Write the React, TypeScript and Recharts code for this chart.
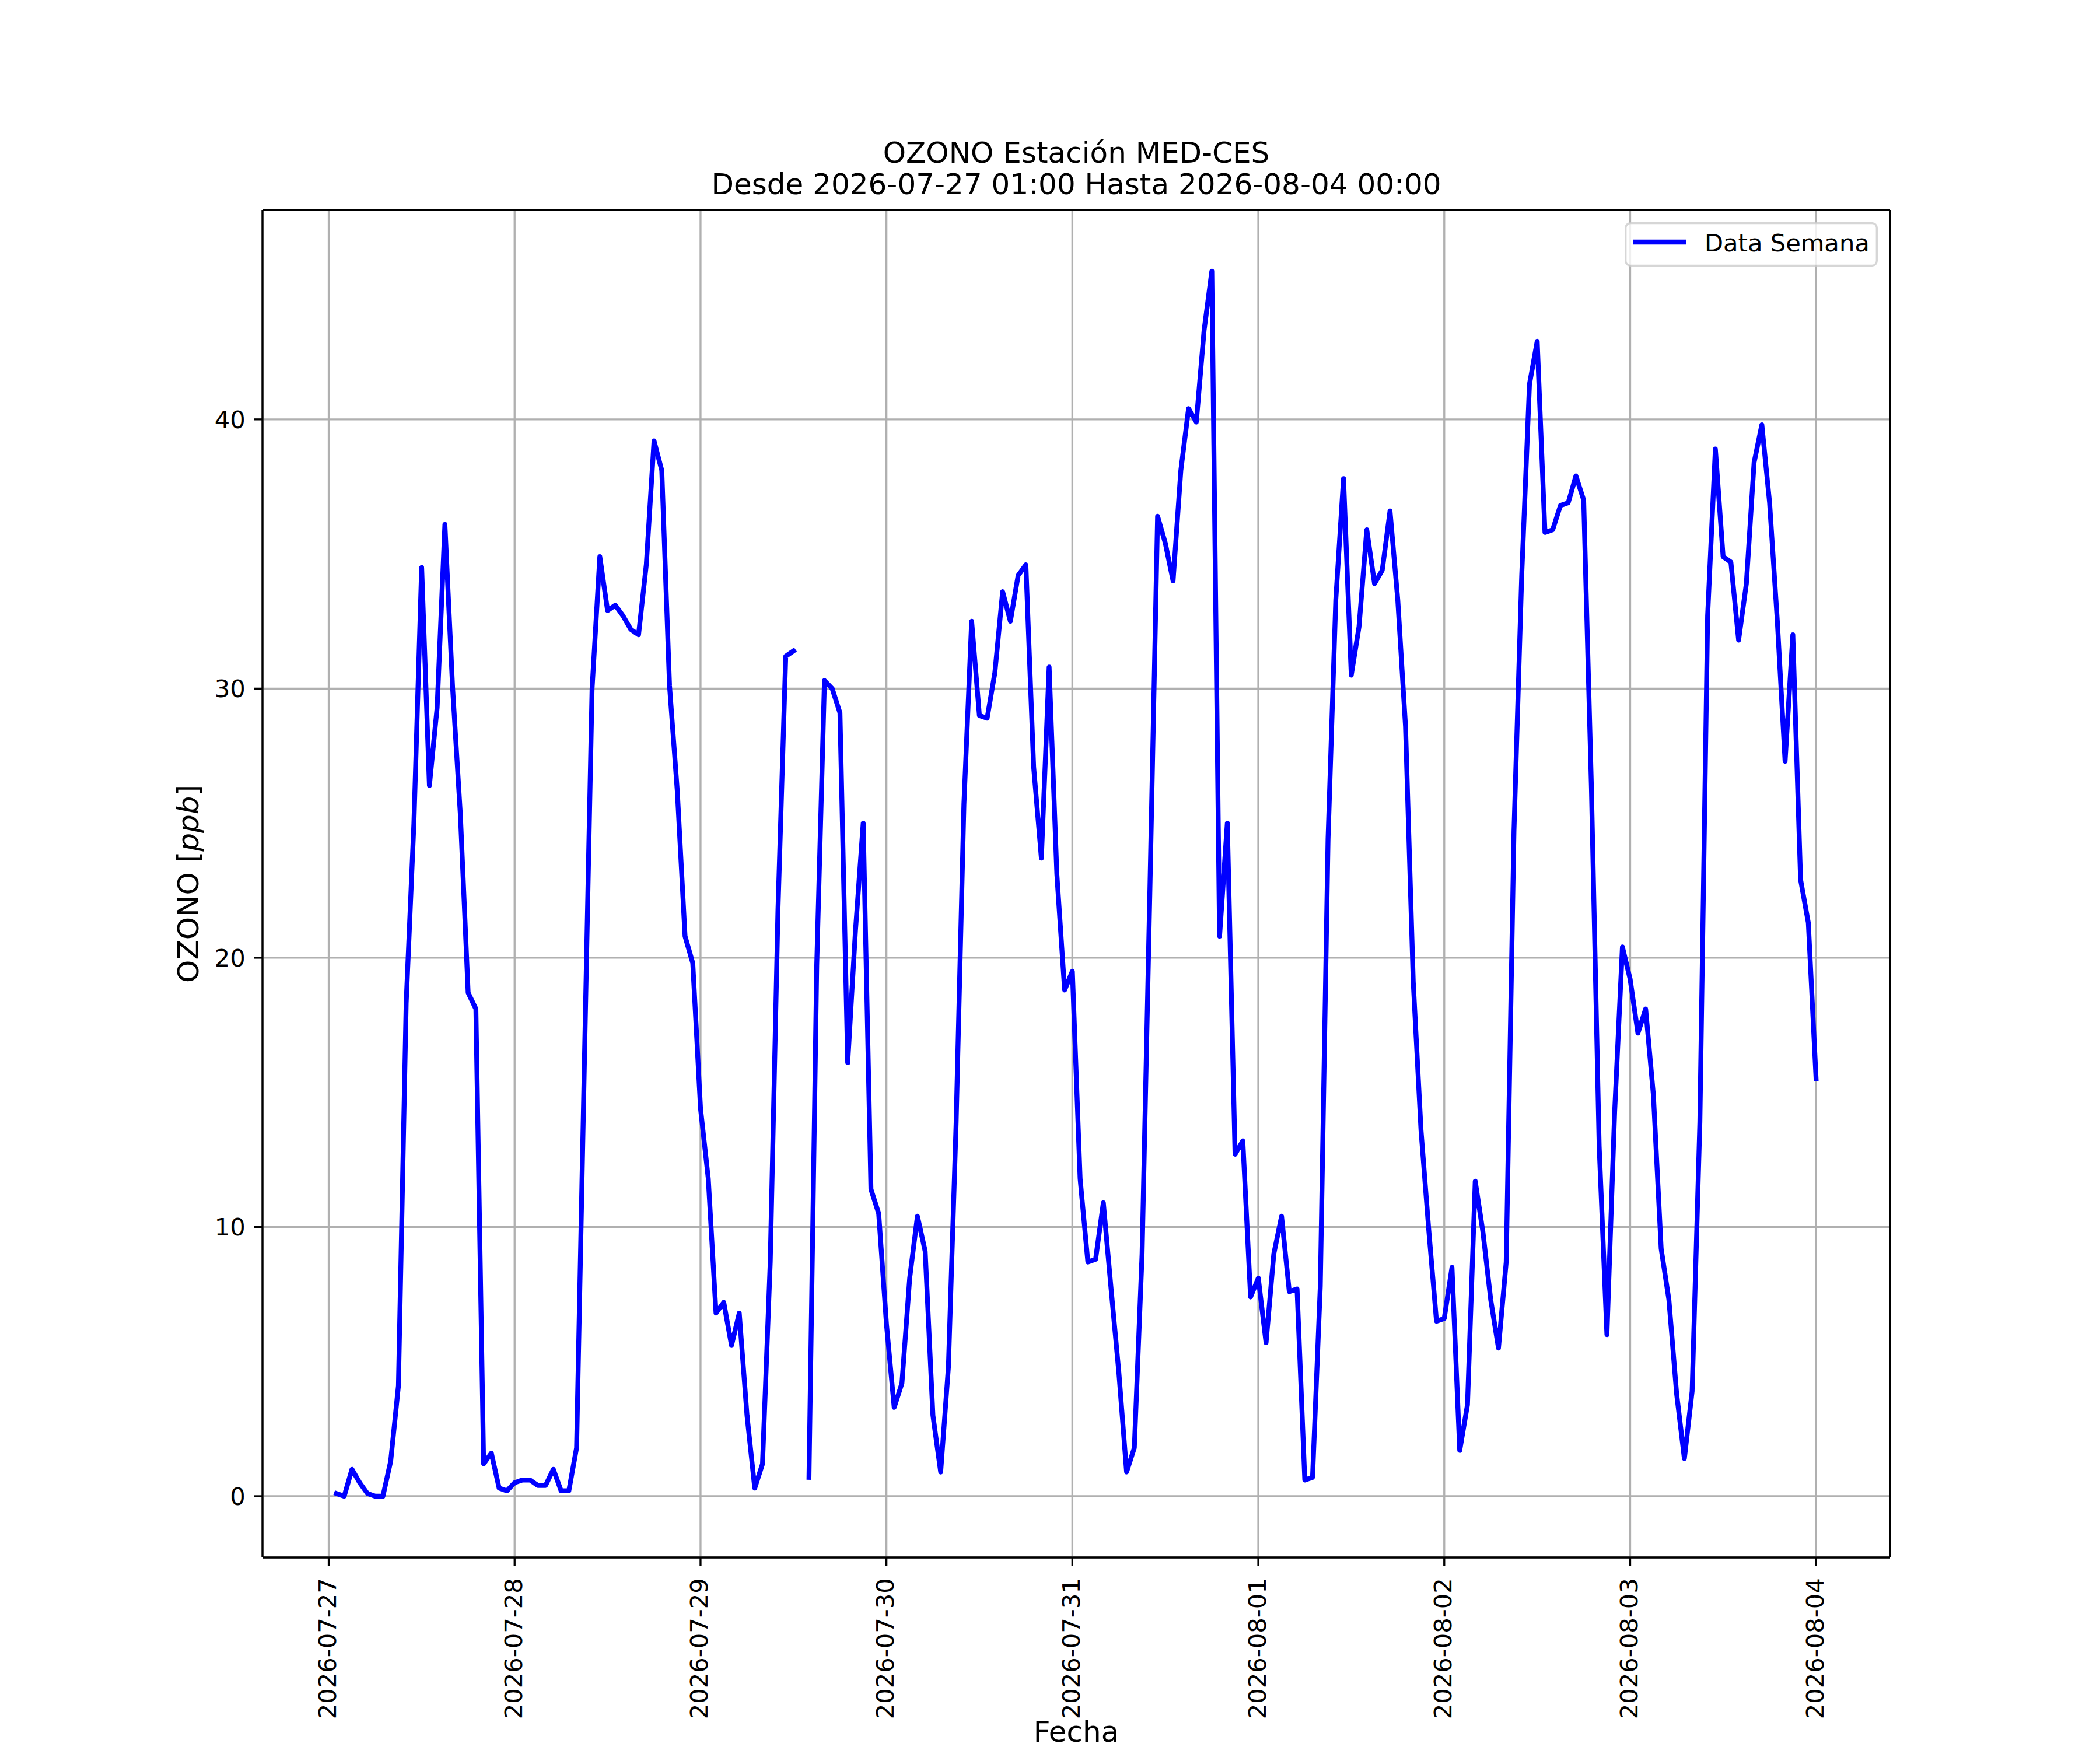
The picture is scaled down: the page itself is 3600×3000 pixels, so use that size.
import React from 'react';
import { LineChart, Line, XAxis, YAxis, CartesianGrid } from 'recharts';

// Day tick labels (one every 24 h, hour 0 = 2026-07-27 00:00)
const dayLabels = [
  '2026-07-27', '2026-07-28', '2026-07-29', '2026-07-30', '2026-07-31',
  '2026-08-01', '2026-08-02', '2026-08-03', '2026-08-04',
];
const yTicks = [0, 10, 20, 30, 40];

// Hourly ozone values [ppb], from 2026-07-27 01:00 to 2026-08-04 00:00
const ozone: (number | null)[] = [
  // 07-27 01..07-28 00
  0.1, 0.0, 1.0, 0.5, 0.1, 0.0, 0.0, 1.3, 4.1, 18.3, 25.0, 34.5,
  26.4, 29.3, 36.1, 30.0, 25.3, 18.7, 18.1, 1.2, 1.6, 0.3, 0.2, 0.5,
  // 07-28 01..07-29 00
  0.6, 0.6, 0.4, 0.4, 1.0, 0.2, 0.2, 1.8, 16.0, 30.0, 34.9, 32.9,
  33.1, 32.7, 32.2, 32.0, 34.6, 39.2, 38.1, 30.1, 26.2, 20.8, 19.8, 14.4,
  // 07-29 01..07-30 00
  11.8, 6.8, 7.2, 5.6, 6.8, 3.0, 0.3, 1.2, 8.7, 21.8, 31.2, 31.4,
  null, 0.7, 19.7, 30.3, 30.0, 29.1, 16.1, 21.0, 25.0, 11.4, 10.5, 6.4,
  // 07-30 01..07-31 00
  3.3, 4.2, 8.1, 10.4, 9.1, 3.0, 0.9, 4.8, 13.9, 25.7, 32.5, 29.0,
  28.9, 30.6, 33.6, 32.5, 34.2, 34.6, 27.1, 23.7, 30.8, 23.1, 18.8, 19.5,
  // 07-31 01..08-01 00
  11.8, 8.7, 8.8, 10.9, 7.7, 4.6, 0.9, 1.8, 9.0, 22.4, 36.4, 35.4,
  34.0, 38.1, 40.4, 39.9, 43.3, 45.5, 20.8, 25.0, 12.7, 13.2, 7.4, 8.1,
  // 08-01 01..08-02 00
  5.7, 9.0, 10.4, 7.6, 7.7, 0.6, 0.7, 7.8, 24.4, 33.3, 37.8, 30.5,
  32.3, 35.9, 33.9, 34.4, 36.6, 33.3, 28.6, 19.1, 13.6, 9.9, 6.5, 6.6,
  // 08-02 01..08-03 00
  8.5, 1.7, 3.4, 11.7, 9.8, 7.3, 5.5, 8.7, 24.7, 34.2, 41.3, 42.9,
  35.8, 35.9, 36.8, 36.9, 37.9, 37.0, 26.3, 13.0, 6.0, 14.3, 20.4, 19.2,
  // 08-03 01..08-04 00
  17.2, 18.1, 14.9, 9.2, 7.3, 3.8, 1.4, 3.9, 13.9, 32.7, 38.9, 34.9,
  34.7, 31.8, 33.9, 38.4, 39.8, 36.9, 32.5, 27.3, 32.0, 22.9, 21.3, 15.5,
];

const data = ozone.map((v, i) => ({ h: i + 1, o: v }));
const xTicks = dayLabels.map((_, i) => i * 24);

const vals = ozone.filter((v): v is number => v !== null);
const yMin = Math.min(...vals);
const yMax = Math.max(...vals);
const yPad = (yMax - yMin) * 0.05;
const yDomain: [number, number] = [yMin - yPad, yMax + yPad];
const xFirst = data[0].h;
const xLast = data[data.length - 1].h;
const xPad = (xLast - xFirst) * 0.05;
const xDomain: [number, number] = [xFirst - xPad, xLast + xPad];

const FONT = 'DejaVu Sans';
const LW = 3.33;

const XTick = (props: any) => {
  const { x, y, payload } = props;
  const yy = y + 6;
  return (
    <text
      x={x}
      y={yy}
      transform={`rotate(-90 ${x} ${yy})`}
      textAnchor="end"
      dy="0.3em"
      fontSize={41.67}
      fontFamily={FONT}
      fill="#000"
    >
      {dayLabels[Math.round(payload.value / 24)]}
    </text>
  );
};

export default function App() {
  return (
    <div
      style={{
        position: 'absolute',
        left: 0,
        top: 0,
        width: 3600,
        height: 3000,
        background: '#fff',
        fontFamily: FONT,
      }}
    >
      <LineChart
        width={3600}
        height={3000}
        data={data}
        margin={{ top: 359, right: 359, left: 390, bottom: 270 }}
      >
        <CartesianGrid stroke="#b0b0b0" strokeWidth={LW} />
        <XAxis
          dataKey="h"
          type="number"
          domain={xDomain}
          allowDataOverflow
          ticks={xTicks}
          interval={0}
          tick={<XTick />}
          tickSize={14.6}
          tickMargin={14.6}
          tickLine={{ stroke: '#000', strokeWidth: LW }}
          axisLine={{ stroke: '#000', strokeWidth: LW }}
          height={60}
        />
        <XAxis
          xAxisId="top"
          orientation="top"
          dataKey="h"
          type="number"
          domain={xDomain}
          allowDataOverflow
          tick={false}
          tickLine={false}
          axisLine={{ stroke: '#000', strokeWidth: LW }}
          height={1}
        />
        <YAxis
          type="number"
          domain={yDomain}
          allowDataOverflow
          ticks={yTicks}
          interval={0}
          tick={{ fontSize: 41.67, fill: '#000', fontFamily: FONT }}
          tickSize={14.6}
          tickMargin={14.6}
          tickLine={{ stroke: '#000', strokeWidth: LW }}
          axisLine={{ stroke: '#000', strokeWidth: LW }}
          width={60}
        />
        <YAxis
          yAxisId="right"
          orientation="right"
          type="number"
          domain={yDomain}
          allowDataOverflow
          tick={false}
          tickLine={false}
          axisLine={{ stroke: '#000', strokeWidth: LW }}
          width={1}
        />
        <Line
          dataKey="o"
          type="linear"
          stroke="#0000ff"
          strokeWidth={8.33}
          strokeLinejoin="round"
          strokeLinecap="square"
          dot={false}
          activeDot={false}
          connectNulls={false}
          isAnimationActive={false}
        />
      </LineChart>
      <svg
        width={3600}
        height={3000}
        style={{ position: 'absolute', left: 0, top: 0, pointerEvents: 'none' }}
      >
        <text x={1845} y={279} textAnchor="middle" fontSize={50} fontFamily={FONT} fill="#000">
          OZONO Estación MED-CES
        </text>
        <text x={1845} y={333} textAnchor="middle" fontSize={50} fontFamily={FONT} fill="#000">
          Desde 2026-07-27 01:00 Hasta 2026-08-04 00:00
        </text>
        <text
          x={340}
          y={1515}
          transform="rotate(-90 340 1515)"
          textAnchor="middle"
          fontSize={50}
          fontFamily={FONT}
          fill="#000"
        >
          OZONO [<tspan fontStyle="italic">ppb</tspan>]
        </text>
        <text x={1845} y={2986} textAnchor="middle" fontSize={50} fontFamily={FONT} fill="#000">
          Fecha
        </text>
        <rect
          x={2786.7}
          y={382.7}
          width={430.6}
          height={72.6}
          rx={8}
          ry={8}
          fill="#fff"
          fillOpacity={0.8}
          stroke="#cccccc"
          strokeOpacity={0.8}
          strokeWidth={LW}
        />
        <line x1={2799} y1={415} x2={2890} y2={415} stroke="#0000ff" strokeWidth={8.33} />
        <text x={2922} y={431} fontSize={41.67} fontFamily={FONT} fill="#000">
          Data Semana
        </text>
      </svg>
    </div>
  );
}
